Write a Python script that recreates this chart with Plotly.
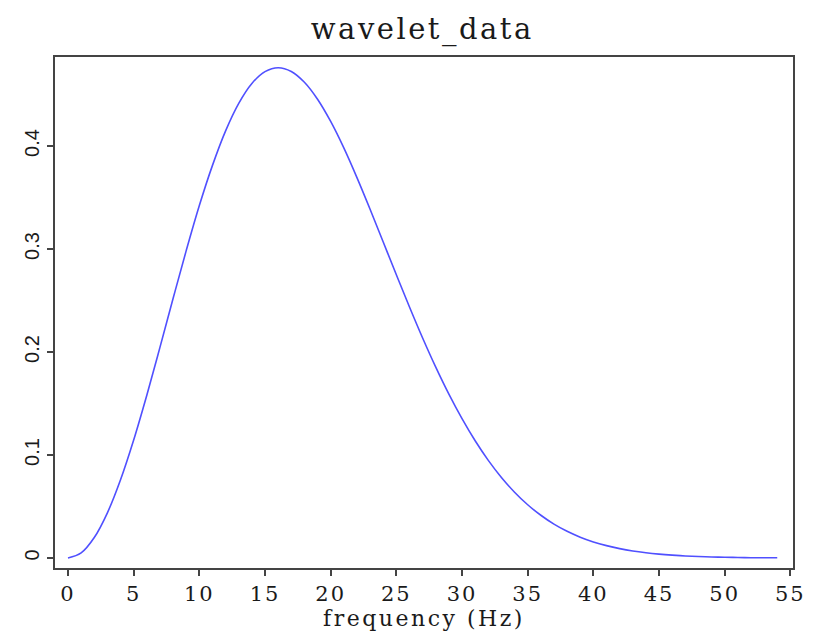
import plotly.graph_objects as go

# Amplitude spectrum of the wavelet, sampled every 1 Hz
freq_hz = list(range(0, 55))
amplitude = [
    0.0000, 0.0050, 0.0199, 0.0439, 0.0760, 0.1146, 0.1581, 0.2045, 0.2519, 0.2984,
    0.3422, 0.3812, 0.4147, 0.4414, 0.4607, 0.4722, 0.4760, 0.4724, 0.4619, 0.4454,
    0.4238, 0.3981, 0.3693, 0.3386, 0.3068, 0.2750, 0.2437, 0.2136, 0.1853, 0.1591,
    0.1353, 0.1138, 0.0948, 0.0782, 0.0639, 0.0517, 0.0415, 0.0329, 0.0259, 0.0202,
    0.0156, 0.0120, 0.0091, 0.0068, 0.0051, 0.0038, 0.0028, 0.0020, 0.0014, 0.0010,
    0.0007, 0.0005, 0.0003, 0.0002, 0.0002,
]

x_ticks = list(range(0, 56, 5))
y_ticks = [0, 0.1, 0.2, 0.3, 0.4]
y_tick_text = ["0", "0.1", "0.2", "0.3", "0.4"]


def spaced(text, px):
    return f'<span style="letter-spacing:{px}px">{text}</span>'


fig = go.Figure()
fig.add_trace(go.Scatter(
    x=freq_hz, y=amplitude, mode="lines",
    line=dict(color="#5050ff", width=1.6, shape="spline"),
    showlegend=False, hoverinfo="skip",
))

axis_color = "#444444"
text_color = "#1a1a1a"
serif = "DejaVu Serif"
fig.update_layout(
    width=820, height=635,
    margin=dict(l=55, r=27, t=57, b=67),
    paper_bgcolor="white", plot_bgcolor="white",
    title=dict(text=spaced("wavelet_data", 2.5), x=0.515, xanchor="center", y=0.955, yanchor="middle",
               font=dict(family=serif, size=29, color=text_color)),
    xaxis=dict(
        range=[-0.99, 55.2], tickvals=x_ticks,
        ticktext=[spaced(str(v), 2) for v in x_ticks],
        ticks="outside", ticklen=6,
        tickcolor=axis_color, tickwidth=1.5,
        showline=True, linecolor=axis_color, linewidth=1.5, mirror=True,
        showgrid=False, zeroline=False, automargin=False,
        tickfont=dict(family=serif, size=21, color=text_color),
        title=dict(text=spaced("frequency (Hz)", 2.5), standoff=6,
                   font=dict(family=serif, size=22, color=text_color)),
    ),
    yaxis=dict(
        range=[-0.0097, 0.4864], tickvals=y_ticks, ticktext=y_tick_text,
        ticks="outside", ticklen=6, tickcolor=axis_color, tickwidth=1.5,
        tickangle=-90,
        showline=True, linecolor=axis_color, linewidth=1.5, mirror=True,
        showgrid=False, zeroline=False, automargin=False,
        tickfont=dict(family="Liberation Sans", size=20, color=text_color),
    ),
)

fig.write_html("out.html")
